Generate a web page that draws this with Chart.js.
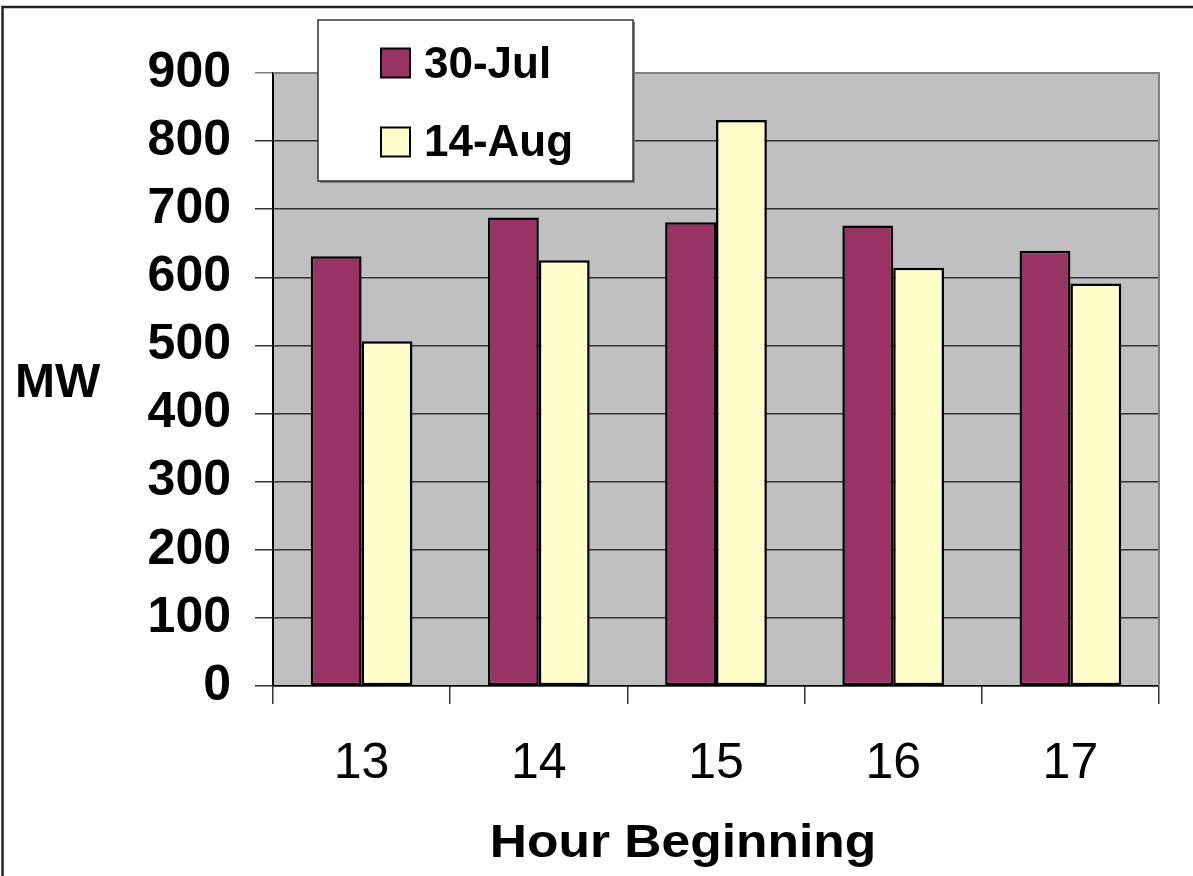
<!DOCTYPE html>
<html>
<head>
<meta charset="utf-8">
<style>
  html, body { margin: 0; padding: 0; background: #fff; }
  #wrap { width: 1193px; height: 876px; position: relative; }
</style>
<script src="https://cdn.jsdelivr.net/npm/chart.js@4.4.1/dist/chart.umd.min.js"></script>
</head>
<body>
<div id="wrap"><canvas id="c" width="1193" height="876"></canvas></div>
<script>
// Hourly load (MW) for two days, hours 13–17
const hours = ['13', '14', '15', '16', '17'];
const seriesNames = ['30-Jul', '14-Aug'];
const jul30 = [631, 688, 681, 676, 639];
const aug14 = [506, 625, 831, 614, 591];
const yMin = 0, yMax = 900, yStep = 100;
const yTitle = 'MW';
const xTitle = 'Hour Beginning';

const FONT = '"Liberation Sans", Arial, Helvetica, sans-serif';
const colors = ['#993366', '#FFFFCC'];

// Grey plot background and white page
const backgroundPlugin = {
  id: 'bg',
  beforeDraw(chart) {
    const { ctx, chartArea: a } = chart;
    ctx.save();
    ctx.fillStyle = '#ffffff';
    ctx.fillRect(0, 0, chart.width, chart.height);
    ctx.fillStyle = '#C0C0C0';
    ctx.fillRect(a.left, a.top, a.right - a.left, a.bottom - a.top);
    ctx.restore();
  }
};

// Frame lines, axis captions and the boxed legend
const overlayPlugin = {
  id: 'overlay',
  afterDraw(chart) {
    const { ctx, chartArea: a } = chart;
    ctx.save();
    // plot-area top and right edges
    ctx.strokeStyle = '#808080';
    ctx.lineWidth = 2;
    ctx.beginPath();
    ctx.moveTo(a.left, a.top);
    ctx.lineTo(a.right, a.top);
    ctx.lineTo(a.right, a.bottom);
    ctx.stroke();

    // outer chart frame (left and top)
    ctx.strokeStyle = '#222';
    ctx.lineWidth = 2.5;
    ctx.beginPath();
    ctx.moveTo(2.5, chart.height);
    ctx.lineTo(2.5, 7);
    ctx.lineTo(chart.width, 7);
    ctx.stroke();

    // y-axis caption
    ctx.fillStyle = '#000';
    ctx.font = 'bold 48px ' + FONT;
    ctx.textAlign = 'left';
    ctx.textBaseline = 'alphabetic';
    ctx.fillText(yTitle, 15, 397);

    // x-axis caption in a wide setting
    ctx.save();
    ctx.font = 'bold 46px ' + FONT;
    ctx.textAlign = 'center';
    ctx.translate(683, 857);
    ctx.scale(1.12, 1);
    ctx.fillText(xTitle, 0, 0);
    ctx.restore();

    // legend box
    const bx = 318, by = 20, bw = 315, bh = 161;
    ctx.fillStyle = '#808080';
    ctx.fillRect(bx + 2, by + 2, bw, bh);
    ctx.fillStyle = '#ffffff';
    ctx.fillRect(bx, by, bw, bh);
    ctx.strokeStyle = '#333';
    ctx.lineWidth = 1.5;
    ctx.strokeRect(bx, by, bw, bh);

    const rows = [{ sy: 48.5, base: 78 }, { sy: 127.5, base: 156 }];
    chart.data.datasets.forEach((ds, i) => {
      const r = rows[i];
      ctx.fillStyle = ds.backgroundColor;
      ctx.fillRect(381, r.sy, 29, 29);
      ctx.strokeStyle = '#000';
      ctx.lineWidth = 2;
      ctx.strokeRect(381, r.sy, 29, 29);
      ctx.fillStyle = '#000';
      ctx.font = 'bold 44px ' + FONT;
      ctx.textAlign = 'left';
      ctx.fillText(ds.label, 424, r.base);
    });
    ctx.restore();
  }
};

new Chart(document.getElementById('c'), {
  type: 'bar',
  data: {
    labels: hours,
    datasets: [
      { label: seriesNames[0], data: jul30, backgroundColor: colors[0] },
      { label: seriesNames[1], data: aug14, backgroundColor: colors[1] }
    ]
  },
  options: {
    responsive: false,
    animation: false,
    devicePixelRatio: 1,
    layout: { padding: { left: 0, top: 73, right: 34, bottom: 0 } },
    datasets: {
      bar: {
        categoryPercentage: 0.574,
        barPercentage: 1.0,
        borderColor: '#000',
        borderWidth: 2.5,
        borderSkipped: false
      }
    },
    plugins: {
      legend: { display: false },
      tooltip: { enabled: false }
    },
    scales: {
      x: {
        afterFit(scale) { scale.height = 190; },
        grid: {
          offset: true,
          drawOnChartArea: false,
          drawTicks: true,
          tickLength: 18,
          color: '#333',
          lineWidth: 1.5
        },
        border: { display: true, color: '#000', width: 1.5 },
        ticks: {
          color: '#000',
          padding: 30,
          font: { family: FONT, size: 50, weight: 'normal' },
          maxRotation: 0
        },
        title: { display: false }
      },
      y: {
        min: yMin,
        max: yMax,
        afterFit(scale) { scale.width = 273; },
        grid: {
          drawTicks: true,
          tickLength: 18,
          color: (ctx) => (ctx.tick && ctx.tick.value === yMax) ? '#808080' : '#333',
          lineWidth: 1.5
        },
        border: { display: true, color: '#000', width: 2 },
        ticks: {
          stepSize: yStep,
          color: '#000',
          padding: 24,
          font: { family: FONT, size: 50, weight: 'bold' }
        }
      }
    }
  },
  plugins: [backgroundPlugin, overlayPlugin]
});
</script>
</body>
</html>
